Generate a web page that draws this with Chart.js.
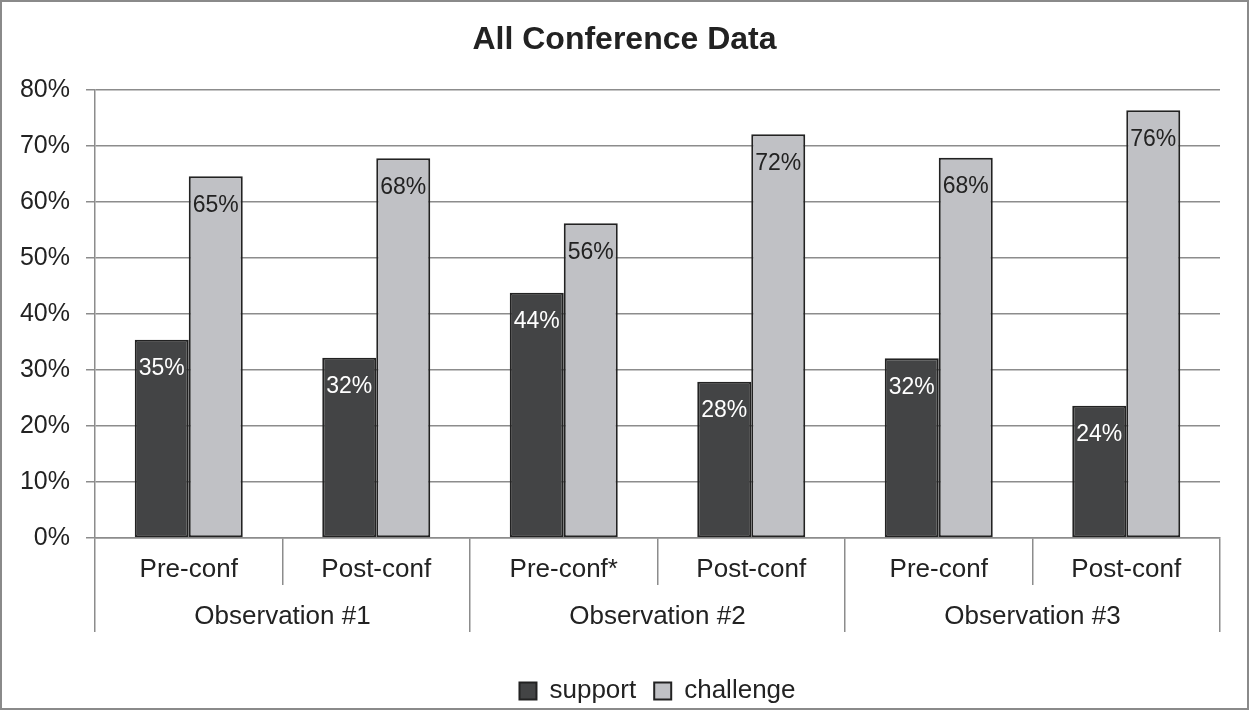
<!DOCTYPE html>
<html>
<head>
<meta charset="utf-8">
<script src="https://cdn.jsdelivr.net/npm/chart.js@4.4.1/dist/chart.umd.min.js"></script>
<style>
  html, body { margin: 0; padding: 0; background: #fff; }
  canvas { display: block; }
</style>
</head>
<body>
<canvas id="c" width="1249" height="710"></canvas>
<script>
const categories = ['Pre-conf', 'Post-conf', 'Pre-conf*', 'Post-conf', 'Pre-conf', 'Post-conf'];
const groups = ['Observation #1', 'Observation #2', 'Observation #3'];
const supportValues = [35.4, 32.2, 43.8, 27.9, 32.1, 23.6];
const challengeValues = [64.6, 67.8, 56.2, 72.1, 67.9, 76.4];
const yTicks = [0, 10, 20, 30, 40, 50, 60, 70, 80];

const FONT = "'Liberation Sans', Arial, sans-serif";
const GRID = '#8c8c8c';
const TEXT = '#222222';

const frame = {
  id: 'frame',
  beforeDraw(chart) {
    const ctx = chart.ctx;
    ctx.save();
    ctx.fillStyle = '#ffffff';
    ctx.fillRect(0, 0, chart.width, chart.height);
    ctx.strokeStyle = '#8a8a8a';
    ctx.lineWidth = 2;
    ctx.strokeRect(1, 1, chart.width - 2, chart.height - 2);
    ctx.restore();
  }
};

const valueLabels = {
  id: 'valueLabels',
  afterDatasetsDraw(chart) {
    const ctx = chart.ctx;
    ctx.save();
    ctx.font = '23px ' + FONT;
    ctx.textAlign = 'center';
    ctx.textBaseline = 'middle';
    chart.data.datasets.forEach((ds, di) => {
      const meta = chart.getDatasetMeta(di);
      meta.data.forEach((bar, i) => {
        ctx.fillStyle = di === 0 ? '#ffffff' : TEXT;
        ctx.fillText(Math.round(ds.data[i]) + '%', bar.x, bar.y + 29);
      });
    });
    ctx.restore();
  }
};

new Chart(document.getElementById('c'), {
  type: 'bar',
  data: {
    labels: categories,
    datasets: [
      {
        label: 'support',
        data: supportValues,
        backgroundColor: '#434445',
        borderColor: '#222222',
        borderWidth: 2,
        borderSkipped: false,
        barPercentage: 1,
        categoryPercentage: 0.576
      },
      {
        label: 'challenge',
        data: challengeValues,
        backgroundColor: '#c0c1c5',
        borderColor: '#222222',
        borderWidth: 2,
        borderSkipped: false,
        barPercentage: 1,
        categoryPercentage: 0.576
      }
    ]
  },
  options: {
    responsive: false,
    animation: false,
    devicePixelRatio: 1,
    layout: { padding: { left: 0, right: 0, top: 0, bottom: 0 } },
    plugins: {
      title: {
        display: true,
        text: 'All Conference Data',
        color: TEXT,
        font: { family: FONT, size: 32, weight: 'bold' },
        padding: { top: 21, bottom: 30.6 }
      },
      legend: {
        display: true,
        position: 'bottom',
        fullSize: false,
        maxHeight: 50,
        labels: {
          color: TEXT,
          font: { family: FONT, size: 26 },
          boxWidth: 17,
          boxHeight: 17,
          padding: 18
        }
      },
      tooltip: { enabled: false }
    },
    scales: {
      y: {
        min: 0,
        max: 80,
        afterBuildTicks: (s) => { s.ticks = yTicks.map(v => ({ value: v })); },
        afterFit: (s) => { s.width = 95; },
        ticks: {
          color: TEXT,
          font: { family: FONT, size: 25 },
          padding: 16,
          callback: (v) => v + '%'
        },
        grid: {
          color: GRID,
          lineWidth: 1.5,
          drawTicks: true,
          tickLength: 9
        },
        border: { display: true, color: GRID, width: 1.5 }
      },
      yRightSpace: {
        position: 'right',
        min: 0,
        max: 80,
        afterFit: (s) => { s.width = 29; },
        ticks: { display: false },
        grid: { display: false },
        border: { display: false }
      },
      x: {
        position: 'bottom',
        weight: 1,
        afterFit: (s) => { s.height = 47; },
        ticks: {
          color: TEXT,
          font: { family: FONT, size: 26 },
          padding: -31,
          autoSkip: false,
          maxRotation: 0
        },
        grid: {
          offset: true,
          drawOnChartArea: false,
          drawTicks: true,
          tickLength: 47,
          color: GRID,
          lineWidth: 1.5
        },
        border: { display: true, color: GRID, width: 1.5 }
      },
      x2: {
        type: 'category',
        labels: groups,
        position: 'bottom',
        weight: 2,
        offset: true,
        afterFit: (s) => { s.height = 75; },
        ticks: {
          color: TEXT,
          font: { family: FONT, size: 26 },
          padding: -31,
          autoSkip: false,
          maxRotation: 0
        },
        grid: {
          offset: true,
          drawOnChartArea: false,
          drawTicks: true,
          tickLength: 47,
          color: GRID,
          lineWidth: 1.5
        },
        border: { display: false }
      }
    }
  },
  plugins: [frame, valueLabels]
});
</script>
</body>
</html>
